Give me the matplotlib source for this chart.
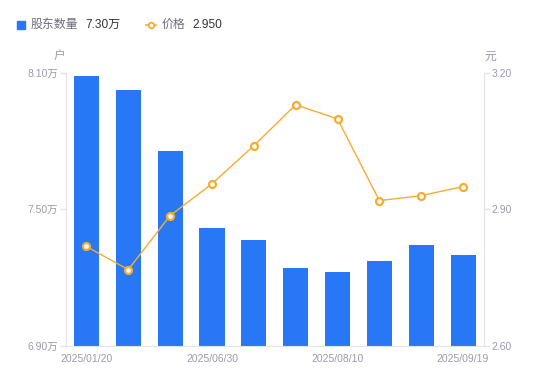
import numpy as np
import matplotlib.pyplot as plt

plt.rcParams['font.family'] = ['Liberation Sans', 'Noto Sans CJK SC', 'DejaVu Sans']

# holders (万户) and price (元) per reporting date
dates = ["2025/01/20", "2025/02/28", "2025/03/31", "2025/06/30", "2025/07/10",
         "2025/07/31", "2025/08/10", "2025/08/31", "2025/09/10", "2025/09/19"]
holders = [8.087, 8.025, 7.757, 7.419, 7.366, 7.243, 7.225, 7.270, 7.344, 7.30]
price = [2.818, 2.767, 2.886, 2.956, 3.040, 3.130, 3.099, 2.919, 2.930, 2.950]
label_every = 3

blue = "#2878f5"
orange = "#f7ac2e"
grey = "#9b9bab"
axis_col = "#e3e3e8"

fig = plt.figure(figsize=(5.5, 3.81), dpi=100)
ax = fig.add_axes([65.5/550, 35.5/381, 418.5/550, 272.5/381])
ax2 = ax.twinx()

x = np.arange(len(dates))
ax.bar(x, holders, width=0.6, color=blue, zorder=2)
ax.set_xlim(-0.5, len(dates) - 0.5)
ax.set_ylim(6.90, 8.10)
ax.set_yticks([6.90, 7.50, 8.10])
ax.set_yticklabels([f"{v:.2f}万" for v in [6.90, 7.50, 8.10]])

ax2.plot(x, price, color=orange, lw=1, marker="o", ms=5, mfc="white",
         mec=orange, mew=1.6, zorder=3)
ax2.set_ylim(2.60, 3.20)
ax2.set_yticks([2.60, 2.90, 3.20])
ax2.set_yticklabels([f"{v:.2f}" for v in [2.60, 2.90, 3.20]])

for a in (ax, ax2):
    for s in a.spines.values():
        s.set_visible(False)
    a.tick_params(axis="y", colors=axis_col, labelcolor=grey, labelsize=7.5,
                  length=4, width=1, pad=1.5)
ax.spines["left"].set_visible(True)
ax.spines["left"].set_color(axis_col)
ax.spines["bottom"].set_visible(True)
ax.spines["bottom"].set_color(axis_col)
ax2.spines["right"].set_visible(True)
ax2.spines["right"].set_color(axis_col)

ax.set_xticks(x[::label_every])
ax.set_xticklabels(dates[::label_every])
ax.tick_params(axis="x", length=0, pad=6, labelsize=7.5, labelcolor=grey)

# units
fig.text(59/550, 1 - 57/381, "户", ha="center", va="center", fontsize=8.5, color=grey)
fig.text(490.5/550, 1 - 57/381, "元", ha="center", va="center", fontsize=8.5, color=grey)

# legend row
ly = 1 - 25/381
fig.patches.append(plt.Rectangle((17/550, 1 - 29/381), 8/550, 8/381,
                                 transform=fig.transFigure, color=blue))
fig.text(31/550, ly, "股东数量", ha="left", va="center", fontsize=8.6, color="#6e6e7a")
fig.text(85/550, ly, f"{holders[-1]:.2f}万", ha="left", va="center", fontsize=8.6, color="#333333")
fig.add_artist(plt.Line2D([146/550, 156/550], [ly, ly], color=orange, lw=1.2,
                          transform=fig.transFigure))
fig.add_artist(plt.Line2D([151/550], [ly], color=orange, marker="o", ms=4, mfc="white",
                          mec=orange, mew=1.3, transform=fig.transFigure))
fig.text(162/550, ly, "价格", ha="left", va="center", fontsize=8.6, color="#6e6e7a")
fig.text(192/550, ly, f"{price[-1]:.3f}", ha="left", va="center", fontsize=8.6, color="#333333")

fig.savefig("out.png", dpi=100)
